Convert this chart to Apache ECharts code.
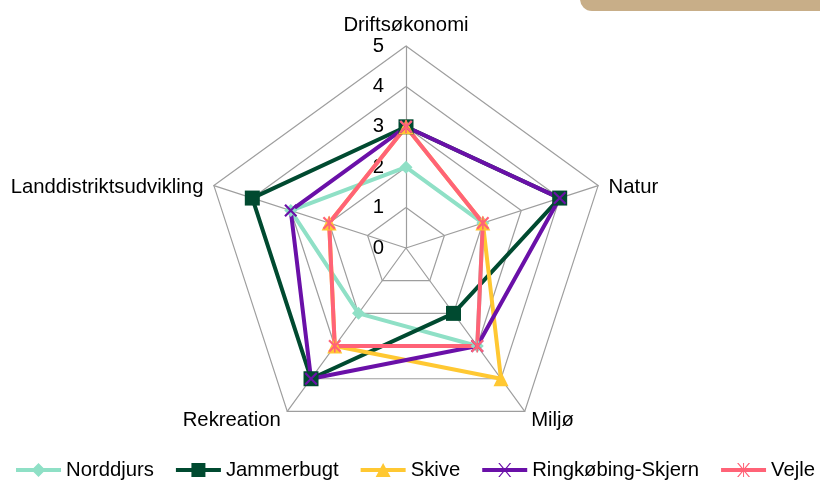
<!DOCTYPE html>
<html>
<head>
<meta charset="utf-8">
<script src="https://cdn.jsdelivr.net/npm/echarts@6/dist/echarts.min.js"></script>
<style>
  html, body { margin: 0; padding: 0; background: #fff; }
  #chart { width: 820px; height: 481px; }
</style>
</head>
<body>
<div id="chart"></div>
<script>
// akser (indikatorer) og kommuner, i urets retning fra toppen
var indicators = ['Driftsøkonomi', 'Natur', 'Miljø', 'Rekreation', 'Landdistriktsudvikling']
var tickLabels = ['0', '1', '2', '3', '4', '5']
var norddjurs = [2, 2, 3, 2, 3]
var jammerbugt = [3, 4, 2, 4, 4]
var skive = [3, 2, 4, 3, 2]
var ringkobing = [3, 4, 3, 4, 3]
var vejle = [3, 2, 3, 3, 2]

// echarts tegner mod uret -> vend rækkefølgen (toppen bliver)
var order = [0, 4, 3, 2, 1]
function reorder(arr) {
  return order.map(function (i) { return arr[i] })
}

var font = 'Liberation Sans, Arial, sans-serif'
var fontSize = 20.3
// kryds og stjerne som fyldte stier
var crossPath = 'path://M0,1.2L1.2,0L10,8.8L8.8,10ZM8.8,0L10,1.2L1.2,10L0,8.8Z'
var starPath = 'path://M0,1.2L1.2,0L10,8.8L8.8,10ZM8.8,0L10,1.2L1.2,10L0,8.8ZM4.4,0L5.6,0L5.6,10L4.4,10Z'

// legend-ikoner: linje med markør i midten (45x14)
var lineBar = 'M0,5H45V9H0Z'
var xBars = 'M16,0L17.5,0L29,14L27.5,14ZM27.5,0L29,0L17.5,14L16,14Z'
var legendIcons = {
  diamond: 'path://M0,5H17.5L22.5,0L27.5,5H45V9H27.5L22.5,14L17.5,9H0Z',
  rect: 'path://M0,5H15.5V0H29.5V5H45V9H29.5V14H15.5V9H0Z',
  triangle: 'path://M0,5H19.8L22.5,0L25.2,5H45V9H27.3L30,14H15L17.7,9H0Z',
  cross: 'path://' + lineBar + xBars,
  star: 'path://' + lineBar + xBars + 'M22,0H23V14H22Z',
}

var series = [
  { name: 'Norddjurs', data: norddjurs, color: '#8fe0c6', symbol: 'diamond', size: 13, icon: 'diamond' },
  { name: 'Jammerbugt', data: jammerbugt, color: '#004a30', symbol: 'rect', size: 15, icon: 'rect' },
  { name: 'Skive', data: skive, color: '#ffc832', symbol: 'triangle', size: 15, icon: 'triangle' },
  { name: 'Ringkøbing-Skjern', data: ringkobing, color: '#6a10a8', symbol: crossPath, size: 13, icon: 'cross' },
  { name: 'Vejle', data: vejle, color: '#ff6377', symbol: starPath, size: 13, icon: 'star' },
]

var chart = echarts.init(document.getElementById('chart'))
chart.setOption({
  animation: false,
  color: series.map(function (s) { return s.color }),
  graphic: [
    {
      type: 'rect',
      shape: { x: 580, y: -20, width: 260, height: 31, r: 12 },
      style: { fill: '#c8ae88' },
    },
  ],
  legend: {
    bottom: 1,
    left: 16,
    padding: 0,
    itemWidth: 45,
    itemHeight: 14,
    itemGap: 22,
    textStyle: { fontFamily: font, fontSize: fontSize, color: '#000' },
    data: series.map(function (s) {
      return { name: s.name, icon: legendIcons[s.icon] }
    }),
  },
  radar: {
    center: [406, 248],
    radius: 202,
    shape: 'polygon',
    splitNumber: 5,
    startAngle: 90,
    nameGap: 11,
    axisName: {
      color: '#000',
      fontFamily: font,
      fontSize: fontSize,
      // sideakserne lidt ned, så teksten står ud for hjørnet
      formatter: function (name) {
        if (name === 'Natur' || name === 'Landdistriktsudvikling') return '{side|' + name + '}'
        return name
      },
      rich: {
        side: { fontFamily: font, fontSize: fontSize, color: '#000', padding: [10, 0, 0, 0] },
      },
    },
    axisLine: { lineStyle: { color: '#9e9e9e', width: 1.2 } },
    splitLine: { lineStyle: { color: '#9e9e9e', width: 1.2 } },
    splitArea: { show: false },
    axisTick: { show: false },
    axisLabel: { show: false },
    indicator: reorder(indicators).map(function (name, i) {
      var ind = { name: name, min: 0, max: 5 }
      if (i === 0) {
        ind.axisLabel = {
          show: true,
          fontFamily: font,
          fontSize: fontSize,
          color: '#000',
          margin: 22,
          formatter: function (v) { return tickLabels[v] },
        }
      }
      return ind
    }),
  },
  series: series.map(function (s) {
    return {
      name: s.name,
      type: 'radar',
      symbol: s.symbol,
      symbolSize: s.size,
      lineStyle: { width: 4, color: s.color },
      itemStyle: { color: s.color },
      data: [{ value: reorder(s.data), name: s.name }],
    }
  }),
})
</script>
</body>
</html>
